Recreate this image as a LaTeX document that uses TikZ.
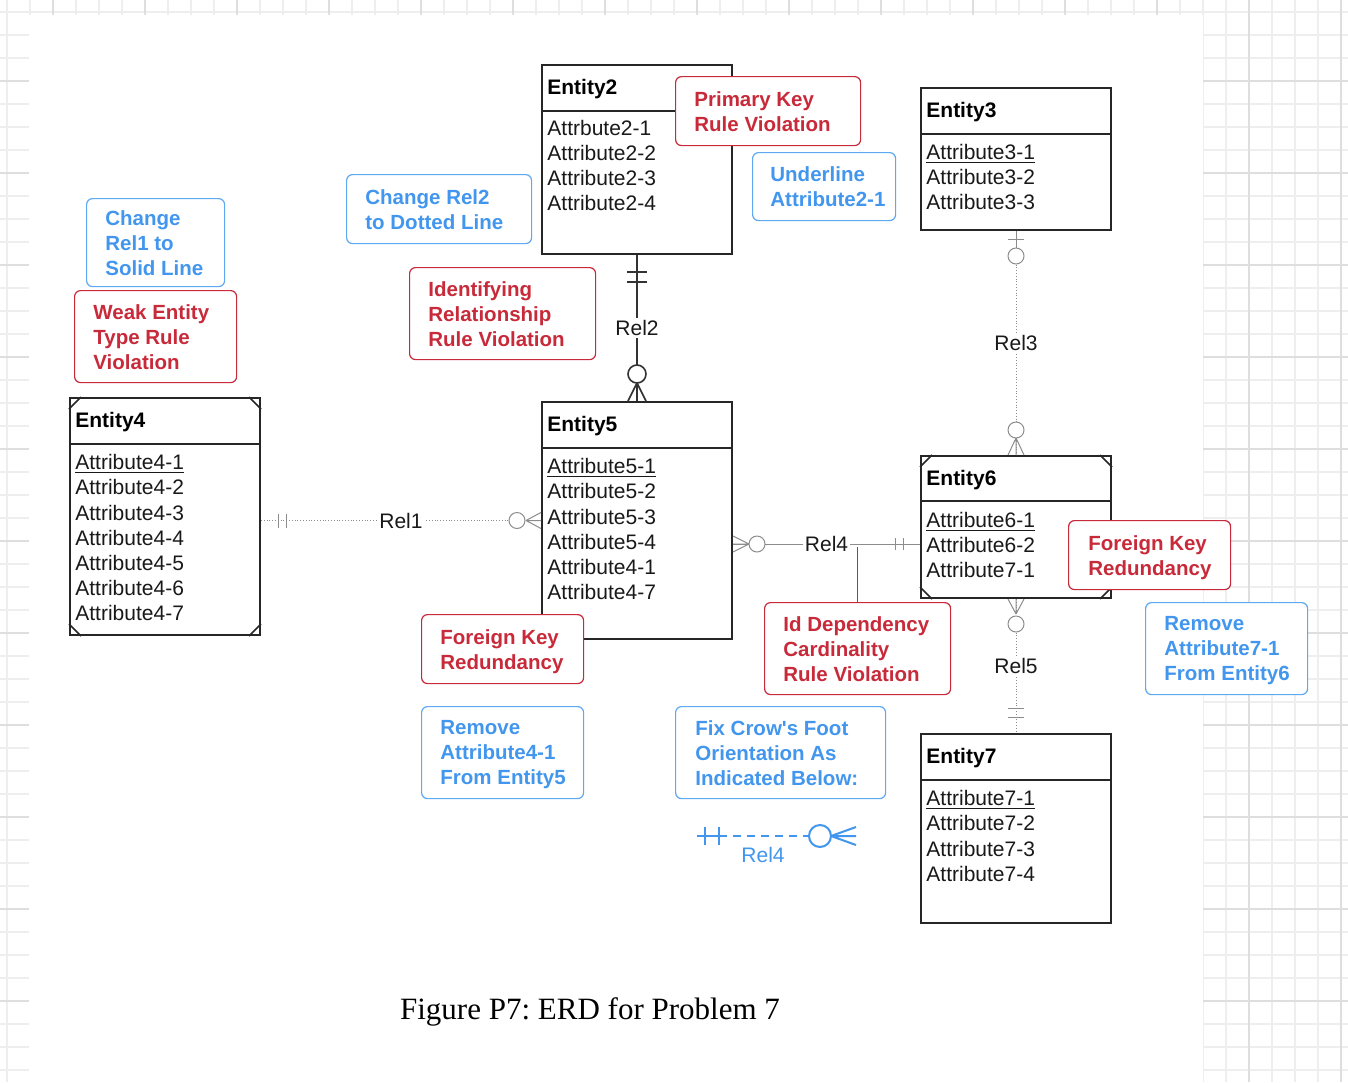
\documentclass[tikz,border=0pt]{standalone}
\usepackage{fontspec}
\setmainfont{Liberation Sans}[Ligatures=TeXOff]
\newfontfamily\capfont{Liberation Serif}
\usepackage{tikz}

\definecolor{notered}{RGB}{200,42,58}
\definecolor{noteblue}{RGB}{66,150,238}
\definecolor{boxblue}{RGB}{95,168,242}
\definecolor{relgray}{RGB}{140,140,140}
\definecolor{gridgray}{RGB}{238,238,238}
\definecolor{gridmajor}{RGB}{222,222,222}

\tikzset{
 entity/.style={rectangle,draw=black!85,line width=1pt,anchor=north west,minimum width=95pt,inner sep=0pt},
 divider/.style={draw=black!85,line width=1pt},
 ename/.style={anchor=base west,inner sep=0pt,font=\fontsize{10.5}{12.5}\selectfont\bfseries},
 attr/.style={anchor=base west,inner sep=0pt,text=black!90,font=\fontsize{10.5}{12.5}\selectfont},
 redbox/.style={rectangle,rounded corners=3pt,draw=notered,line width=0.6pt,fill=white,anchor=north west,inner sep=0pt},
 bluebox/.style={redbox,draw=boxblue},
 redtext/.style={anchor=west,align=left,inner sep=0pt,text depth=0pt,text=notered,font=\fontsize{10.25}{12.5}\selectfont\bfseries},
 bluetext/.style={redtext,text=noteblue},
 rellab/.style={fill=white,inner sep=1pt,text=black!90,font=\fontsize{10.5}{12.5}\selectfont},
 dotrel/.style={draw=relgray,line width=0.4pt,densely dotted},
 graymark/.style={draw=relgray,line width=0.5pt},
 blackmark/.style={draw=black!80,line width=0.8pt},
 legendmark/.style={draw=noteblue,line width=1pt},
 gridline/.style={draw=gridgray,line width=0.6pt},
 gridbold/.style={draw=gridmajor,line width=0.7pt}
}

\begin{document}
\begin{tikzpicture}[x=0.5pt,y=-0.5pt]
\useasboundingbox (0,0) rectangle (1348,1082);

\foreach \x in {7,30,...,1348} \draw[gridline] (\x,0) -- (\x,1082);
\foreach \y in {12,35,...,1082} \draw[gridline] (0,\y) -- (1348,\y);
\foreach \x in {53,145,...,1348} \draw[gridbold] (\x,0) -- (\x,1082);
\foreach \y in {81,173,...,1082} \draw[gridbold] (0,\y) -- (1348,\y);
\fill[white] (29,15) rectangle (1203,1082);

% entities
\node[entity,minimum height=94.5pt] (e2) at (541,64) {};
\draw[divider] ([yshift=-23.5pt]e2.north west) -- ([yshift=-23.5pt]e2.north east);
\node[ename] (e2n) at ([xshift=3pt,yshift=-15.25pt]e2.north west) {Entity2};
\foreach \a [count=\i] in {Attrbute2-1,Attribute2-2,Attribute2-3,Attribute2-4}
  \node[attr] (e2a\i) at ([xshift=3pt,yshift=-23.25pt-12.5pt*\i]e2.north west) {\a};

\node[entity,minimum height=71pt] (e3) at (920,87) {};
\draw[divider] ([yshift=-23.5pt]e3.north west) -- ([yshift=-23.5pt]e3.north east);
\node[ename] (e3n) at ([xshift=3pt,yshift=-15.25pt]e3.north west) {Entity3};
\foreach \a [count=\i] in {\underline{Attribute3-1},Attribute3-2,Attribute3-3}
  \node[attr] (e3a\i) at ([xshift=3pt,yshift=-23.75pt-12.5pt*\i]e3.north west) {\a};

\node[entity,minimum height=118.5pt] (e4) at (69,397) {};
\draw[divider] ([yshift=-23.5pt]e4.north west) -- ([yshift=-23.5pt]e4.north east);
\node[ename] (e4n) at ([xshift=3pt,yshift=-15.25pt]e4.north west) {Entity4};
\foreach \a [count=\i] in {\underline{Attribute4-1},Attribute4-2,Attribute4-3,Attribute4-4,Attribute4-5,Attribute4-6,Attribute4-7}
  \node[attr] (e4a\i) at ([xshift=3pt,yshift=-23.75pt-12.6pt*\i]e4.north west) {\a};
\draw[line width=0.8pt,black!85] ([yshift=-6pt]e4.north west) -- ([xshift=6pt]e4.north west)
  ([xshift=-6pt]e4.north east) -- ([yshift=-6pt]e4.north east)
  ([yshift=6pt]e4.south west) -- ([xshift=6pt]e4.south west)
  ([xshift=-6pt]e4.south east) -- ([yshift=6pt]e4.south east);

\node[entity,minimum height=118.5pt] (e5) at (541,401) {};
\draw[divider] ([yshift=-23.5pt]e5.north west) -- ([yshift=-23.5pt]e5.north east);
\node[ename] (e5n) at ([xshift=3pt,yshift=-15.25pt]e5.north west) {Entity5};
\foreach \a [count=\i] in {\underline{Attribute5-1},Attribute5-2,Attribute5-3,Attribute5-4,Attribute4-1,Attribute4-7}
  \node[attr] (e5a\i) at ([xshift=3pt,yshift=-23.75pt-12.6pt*\i]e5.north west) {\a};

\node[entity,minimum height=71pt] (e6) at (920,455) {};
\draw[divider] ([yshift=-23pt]e6.north west) -- ([yshift=-23pt]e6.north east);
\node[ename] (e6n) at ([xshift=3pt,yshift=-15.25pt]e6.north west) {Entity6};
\foreach \a [count=\i] in {\underline{Attribute6-1},Attribute6-2,Attribute7-1}
  \node[attr] (e6a\i) at ([xshift=3pt,yshift=-23.75pt-12.5pt*\i]e6.north west) {\a};
\draw[line width=0.8pt,black!85] ([yshift=-6pt]e6.north west) -- ([xshift=6pt]e6.north west)
  ([xshift=-6pt]e6.north east) -- ([yshift=-6pt]e6.north east)
  ([yshift=6pt]e6.south west) -- ([xshift=6pt]e6.south west)
  ([xshift=-6pt]e6.south east) -- ([yshift=6pt]e6.south east);

\node[entity,minimum height=94.5pt] (e7) at (920,733) {};
\draw[divider] ([yshift=-23.5pt]e7.north west) -- ([yshift=-23.5pt]e7.north east);
\node[ename] (e7n) at ([xshift=3pt,yshift=-15.25pt]e7.north west) {Entity7};
\foreach \a [count=\i] in {\underline{Attribute7-1},Attribute7-2,Attribute7-3,Attribute7-4}
  \node[attr] (e7a\i) at ([xshift=3pt,yshift=-23.75pt-12.6pt*\i]e7.north west) {\a};

% Rel1
\coordinate (r1s) at (e4.east |- e5.west);
\coordinate (r1t) at (e5.west);
\draw[dotrel] (r1s) -- node[rellab] (r1) {Rel1} (r1t);
\draw[graymark] ([xshift=8.5pt,yshift=3.5pt]r1s) -- ([xshift=8.5pt,yshift=-3.5pt]r1s)
  ([xshift=12.5pt,yshift=3.5pt]r1s) -- ([xshift=12.5pt,yshift=-3.5pt]r1s);
\draw[graymark] ([xshift=-7.5pt]r1t) -- ([yshift=4pt]r1t) ([xshift=-7.5pt]r1t) -- (r1t)
  ([xshift=-7.5pt]r1t) -- ([yshift=-4pt]r1t);
\draw[graymark,fill=white] ([xshift=-12pt]r1t) circle[radius=4pt];

% Rel2
\draw[blackmark] (e2.south) -- node[rellab] (r2) {Rel2} (e5.north);
\draw[blackmark] ([xshift=-5pt,yshift=-8.5pt]e2.south) -- ([xshift=5pt,yshift=-8.5pt]e2.south)
  ([xshift=-5pt,yshift=-13.5pt]e2.south) -- ([xshift=5pt,yshift=-13.5pt]e2.south);
\draw[blackmark] ([yshift=9pt]e5.north) -- ([xshift=-4.5pt]e5.north) ([yshift=9pt]e5.north) -- (e5.north)
  ([yshift=9pt]e5.north) -- ([xshift=4.5pt]e5.north);
\draw[blackmark,fill=white] ([yshift=13.5pt]e5.north) circle[radius=4.5pt];

% Rel3
\draw[dotrel] (e3.south) -- node[rellab] (r3) {Rel3} (e6.north);
\draw[graymark] (e3.south) -- ([yshift=-9pt]e3.south)
  ([xshift=-4pt,yshift=-4pt]e3.south) -- ([xshift=4pt,yshift=-4pt]e3.south);
\draw[graymark,fill=white] ([yshift=-12.5pt]e3.south) circle[radius=4pt];
\draw[graymark] ([yshift=8.5pt]e6.north) -- ([xshift=-4pt]e6.north) ([yshift=8.5pt]e6.north) -- (e6.north)
  ([yshift=8.5pt]e6.north) -- ([xshift=4pt]e6.north);
\draw[graymark,fill=white] ([yshift=12.5pt]e6.north) circle[radius=4pt];

% Rel4
\coordinate (r4t) at ([yshift=-8.5pt]e6.west);
\coordinate (r4s) at (e5.east |- r4t);
\draw[graymark] (r4s) -- node[rellab] (r4) {Rel4} (r4t);
\draw[graymark] ([xshift=8pt]r4s) -- ([yshift=4pt]r4s) ([xshift=8pt]r4s) -- (r4s)
  ([xshift=8pt]r4s) -- ([yshift=-4pt]r4s);
\draw[graymark,fill=white] ([xshift=12pt]r4s) circle[radius=4pt];
\draw[graymark] ([xshift=-12.5pt,yshift=3pt]r4t) -- ([xshift=-12.5pt,yshift=-3pt]r4t)
  ([xshift=-8.5pt,yshift=3pt]r4t) -- ([xshift=-8.5pt,yshift=-3pt]r4t);

% Rel5
\draw[dotrel] (e6.south) -- node[rellab] (r5) {Rel5} (e7.north);
\draw[graymark] ([yshift=-7.5pt]e6.south) -- ([xshift=-4pt]e6.south) ([yshift=-7.5pt]e6.south) -- (e6.south)
  ([yshift=-7.5pt]e6.south) -- ([xshift=4pt]e6.south);
\draw[graymark,fill=white] ([yshift=-12.5pt]e6.south) circle[radius=4pt];
\draw[graymark] ([xshift=-4pt,yshift=12.5pt]e7.north) -- ([xshift=4pt,yshift=12.5pt]e7.north)
  ([xshift=-4pt,yshift=8pt]e7.north) -- ([xshift=4pt,yshift=8pt]e7.north);

% notes
\node[redbox,minimum width=92.5pt,minimum height=34.5pt] (pkbox) at (675,76) {};
\node[redtext] (pk) at ([xshift=9.5pt]pkbox.west) {Primary Key\\Rule Violation};
\node[bluebox,minimum width=71.5pt,minimum height=34pt] (ulbox) at (752,152) {};
\node[bluetext] (ul) at ([xshift=9pt]ulbox.west) {Underline\\Attribute2-1};
\node[bluebox,minimum width=92.5pt,minimum height=34.5pt] (c2box) at (346,174) {};
\node[bluetext] (c2) at ([xshift=9.5pt]c2box.west) {Change Rel2\\to Dotted Line};
\node[bluebox,minimum width=69pt,minimum height=44pt] (c1box) at (86,198) {};
\node[bluetext] (c1) at ([xshift=9.5pt]c1box.west) {Change\\Rel1 to\\Solid Line};
\node[redbox,minimum width=81pt,minimum height=46pt] (webox) at (74,290) {};
\node[redtext] (we) at ([xshift=9.5pt]webox.west) {Weak Entity\\Type Rule\\Violation};
\node[redbox,minimum width=93pt,minimum height=46pt] (irbox) at (409,267) {};
\node[redtext] (ir) at ([xshift=9.5pt]irbox.west) {Identifying\\Relationship\\Rule Violation};
\node[redbox,minimum width=81pt,minimum height=34.5pt] (fk5box) at (421,614) {};
\node[redtext] (fk5) at ([xshift=9.5pt]fk5box.west) {Foreign Key\\Redundancy};
\node[bluebox,minimum width=81pt,minimum height=46pt] (rm5box) at (421,706) {};
\node[bluetext] (rm5) at ([xshift=9.5pt]rm5box.west) {Remove\\Attribute4-1\\From Entity5};
\node[redbox,minimum width=93pt,minimum height=46pt] (idbox) at (764,602) {};
\node[redtext] (id) at ([xshift=9.5pt]idbox.west) {Id Dependency\\Cardinality\\Rule Violation};
\node[bluebox,minimum width=105pt,minimum height=46pt] (fxbox) at (675,706) {};
\node[bluetext] (fx) at ([xshift=10pt]fxbox.west) {Fix Crow's Foot\\Orientation As\\Indicated Below:};
\node[redbox,minimum width=81pt,minimum height=34.5pt] (fk6box) at (1068,520) {};
\node[redtext] (fk6) at ([xshift=10pt]fk6box.west) {Foreign Key\\Redundancy};
\node[bluebox,minimum width=81pt,minimum height=46pt] (rm6box) at (1145,602) {};
\node[bluetext] (rm6) at ([xshift=9.5pt]rm6box.west) {Remove\\Attribute7-1\\From Entity6};

\coordinate (r4j) at (idbox.north |- r4t);
\draw[draw=notered,line width=0.6pt] ([yshift=-1.5pt]r4j) -- (idbox.north);

% legend
\coordinate (lgs) at (697,836);
\coordinate (lge) at (856,836);
\draw[legendmark] (lgs) -- ([xshift=11pt]lgs)
  ([xshift=4pt,yshift=4.5pt]lgs) -- ([xshift=4pt,yshift=-4.5pt]lgs)
  ([xshift=11pt,yshift=4.5pt]lgs) -- ([xshift=11pt,yshift=-4.5pt]lgs);
\draw[legendmark,dash pattern=on 4pt off 3pt] ([xshift=11pt]lgs) -- ([xshift=-23.5pt]lge);
\draw[legendmark] ([xshift=-18pt]lge) circle[radius=5.5pt];
\draw[legendmark] ([xshift=-12.5pt]lge) -- ([yshift=4.5pt]lge) ([xshift=-12.5pt]lge) -- (lge)
  ([xshift=-12.5pt]lge) -- ([yshift=-4.5pt]lge);
\node[text=noteblue,font=\fontsize{10.5}{12.5}\selectfont] (lgl) at (763,855) {Rel4};

\node[font=\capfont\fontsize{15.5}{18}\selectfont\frenchspacing] (cap) at (590,1012) {Figure P7: ERD for Problem 7};
\end{tikzpicture}
\end{document}
